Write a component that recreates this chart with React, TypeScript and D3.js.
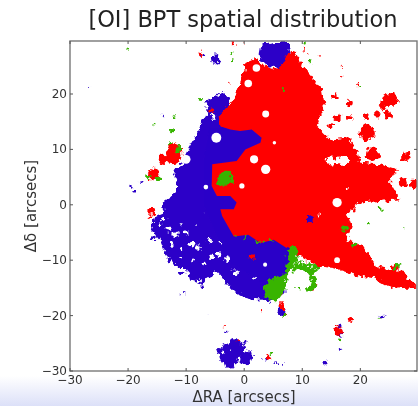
import React from "react";
import * as d3 from "d3";

type P = [number, number];
type B = [number, number, number];

const xTicks = [-30, -20, -10, 0, 10, 20];
const yTicks = [-30, -20, -10, 0, 10, 20];

const blueMain: P[] = [[-6.7,18.7],[-5.9,19.2],[-4.7,19.6],[-3.8,20.4],[-2.7,19],[-2.4,16.6],[-0.7,13.3],[2.8,13],[3.3,11.2],[1.6,8.8],[3.9,-5.1],[5.6,-6.3],[7.5,-9.3],[7.2,-12.9],[6.2,-15.9],[4.2,-17.7],[2.9,-17.1],[1.6,-17],[-0.7,-16.4],[-2.4,-15],[-4.1,-12.8],[-5,-11.8],[-5.6,-13.2],[-6.6,-13.6],[-7.3,-14.6],[-8.3,-13.8],[-9.3,-13.7],[-9.9,-11.4],[-11.1,-11.4],[-12.2,-10.4],[-13.6,-8.9],[-14.5,-6.5],[-15.9,-4.7],[-15.3,-2],[-13.9,-1.4],[-14.2,0.4],[-12.5,1.6],[-11.4,3.4],[-12.2,5.8],[-10.8,7.6],[-9.7,10],[-8,13],[-7.4,14.8],[-6.2,16.6]];
const blueCore: P[] = [[-4.3,14],[3.5,14],[4,5],[3,-4],[8,-8],[7.2,-12],[3,-14],[-3,-10],[-7,0],[-7,8],[-6,14]];
const redMain: P[] = [[-4.4,16],[-1.8,19],[-0.1,23.8],[0.2,25.6],[2.2,26.5],[3.3,25.3],[5.6,24.4],[6.8,26.8],[8.5,28],[9.9,25.3],[11.4,23.5],[13.4,20.8],[13.9,17.8],[12.5,14.2],[14.8,11.8],[17.7,12.1],[19.4,10],[20,7.6],[23.4,7.3],[26.3,6.4],[25.1,4.3],[26.9,1],[20,0.4],[17.7,-1.4],[18.5,-3.9],[17.7,-6.3],[20.6,-7.5],[22.8,-11.1],[26.3,-11.8],[29.9,-14.8],[25.7,-15.2],[22.3,-13.2],[20,-13],[15.4,-11.4],[12.5,-11.1],[9.6,-9.3],[7.3,-7.8],[5.1,-6.3],[2.8,-6.9],[0.7,-5.4],[-1.8,-5.7],[-3.8,-2],[-4.1,-0.8],[-1.8,-0.8],[-1.3,0.4],[-2.4,1.6],[-4.7,1.6],[-5.6,3.4],[-5.5,7.3],[-1.3,7.9],[0.2,10],[2.8,11.2],[3,12.1],[1.3,13.6],[-0.7,13.3],[-2.4,13.6],[-4.1,14.2]];
const redCore: P[] = [[-4.4,16],[-4.1,14.2],[-2.4,13.6],[-0.7,13.3],[1.3,13.6],[3,12.1],[2.8,11.2],[0.2,10],[-1.3,7.9],[-5.5,7.3],[-5.6,3.4],[-4.7,1.6],[-2.4,1.6],[-1.3,0.4],[-1.8,-0.8],[-4.1,-0.8],[-3.8,-2],[-1.8,-5.7],[0.7,-5.4],[2.8,-6.9],[5.1,-6.3],[7.3,-7.8],[8,-7],[10,-2],[10,8],[8,16],[3,17],[-2,17]];
const greenCentre: P[] = [[-4.1,5.8],[-2.7,6.2],[-1.8,4.9],[-2.1,3.7],[-3.6,3.4],[-4.8,4]];
const greenLower: P[] = [[7.6,-7.8],[9.1,-7.5],[9.2,-10],[7.4,-12.4],[7.1,-15.3],[5.6,-17.6],[3.9,-16.7],[3.3,-14.7],[4.5,-13.5],[7.1,-12.3],[7.4,-9.9]];
const greenBranch: P[] = [[9.2,-10],[13.1,-11.1],[12,-12.4],[12.4,-15],[11,-16],[10.4,-14.8],[11.4,-12.6],[8,-11.9]];
const blueTop: P[] = [[2.8,28.9],[5.1,29.4],[7.6,29.4],[7.9,27.7],[5.9,24.7],[3.6,25.3],[2.5,27.1]];

const redBlobs: B[] = [[25.2,19,1.3],[24,18.1,0.8],[21.1,13,1.4],[22,9.1,1.2],[27.9,8.8,0.7],[29.3,3.7,0.8],[27.4,4,0.8],[18.2,18.4,0.5],[15.4,19.6,0.5],[16,15.7,0.6],[18.2,15.7,0.5],[21.1,16,0.5],[22.8,16.3,0.5],[24.6,16.3,0.7],[14.8,14.2,0.5],[19.6,21.7,0.3],[16.7,23.2,0.2],[-15.6,5.5,1],[-12.2,8.8,1.4],[-13.9,8.2,0.8],[-12.2,10.6,0.7],[-11,10,0.6],[-15.9,-1.1,0.6],[-16.2,-2.3,0.4],[16.2,-22.8,0.8],[18.2,-20.7,0.4],[4.2,-27.6,0.5],[6.4,-18.3,0.5],[-7.6,27.3,0.4],[-1.8,29.2,0.4],[14.4,-4.5,0.5],[-5.6,17,0.4],[25.9,-11.6,0.7],[27,-13,1.1],[24,-13,1.1],[7,-19.9,0.3],[3,-19.2,0.2],[-1,-24.6,0.3],[10.4,28,0.2],[0,29,0.12],[-2.5,22,0.15],[-3.4,-22,0.1],[13,27,0.15],[11,27.3,0.15],[16.9,25,0.1],[19,-1,0.4],[11.8,-15.2,0.3],[12.2,-14.4,0.25],[6.4,-16,0.3]];
const greenBlobs: B[] = [[-16.5,5.2,0.4],[-15,4.7,0.4],[-11.3,10,0.6],[-12.7,11.2,0.3],[26.3,-11.1,0.5],[19,-7.2,0.5],[17.3,-4.2,0.6],[21.4,-3.5,0.25],[23.4,-0.8,0.25],[-20.2,28.2,0.2],[-7.6,19,0.25],[10.5,29.4,0.3],[-2.3,27.3,0.2],[-2.1,26,0.25],[11.4,25.8,0.3],[16.5,-24.3,0.3],[6.8,-19.9,0.35],[4.6,-26.8,0.2],[23.3,-20.7,0.2],[-12.5,13.2,0.3],[-15.3,14.5,0.15],[-12,16,0.15],[27.4,-4.2,0.2],[20,21.4,0.2],[-1.5,-5.7,0.2],[0.3,-5.9,0.25],[2.3,-6.8,0.3],[3.3,-6.7,0.3],[4.6,-6.6,0.25],[9.5,-15.2,0.2],[8.9,-15,0.15],[6.8,20.7,0.2]];
const blueBlobs: B[] = [[-5,26.2,0.7],[16.4,-23.1,0.6],[23.7,-20.1,0.4],[16,0.7,0.3],[14,-28.4,0.4],[6.5,-19.2,0.6],[6.5,-15.6,0.6],[16.5,-26.1,0.25],[-2.4,-27,1.9],[0.2,-27.6,1.3],[-1.8,-24.9,0.8],[0.2,-24.9,0.4],[-4.4,-26.1,0.6],[-2.4,-28.9,0.8],[-1,-26,1],[-4.2,-27,0.3],[-3,-23,0.25],[-19.5,3.2,0.3],[-18.8,2.4,0.2],[-17.7,4,0.25],[-26.6,21.2,0.12],[-10.2,-16,0.15],[3.6,-27.8,0.3],[-12.8,8.8,0.35],[5.5,-28.6,0.15],[6.8,-28.7,0.15],[-6.3,-19.9,0.1],[-7.1,27,0.25],[-4.4,27,0.3],[-13.9,16.1,0.12],[16.4,-22,0.35],[-15.5,-6,0.4],[-13,-10,0.35],[-10.7,-12.5,0.4],[-7.2,-15,0.3],[-11,-16.1,0.12],[-15,-3,0.4]];
const islandBlue: B[] = [[11.4,-2.5,0.6]];
const islandRed: B[] = [[1.4,-9.4,0.45]];
const holesRound: B[] = [[2.1,24.7,0.65],[0.7,21.9,0.65],[3.7,16.4,0.6],[-4.8,12.1,0.85],[-10,8.2,0.75],[1.7,8.2,0.7],[3.7,6.4,0.8],[5.2,11.2,0.3],[-0.4,3.4,0.45],[-6.6,3.2,0.4],[3.6,-10.8,0.35],[16,-10,0.5],[16,0.4,0.8],[-13,6.1,0.8]];
const holesRough: B[] = [[15,7.9,0.8],[16.2,7.9,0.6],[17.2,7.9,0.7],[9.8,-13,1.3],[8.6,-13.6,0.9],[10.6,-14,1],[-13.9,-2.6,0.45],[-13,-4.4,0.4],[-14.6,-3.5,0.3],[-11.9,-5.3,0.45],[-12.5,-7.1,0.3],[-9.9,-5,0.35],[-9,-7.1,0.4],[-7.9,-7.7,0.4],[-10.8,-8,0.3],[-5.9,-6.5,0.35],[-4.4,-9.1,0.45],[-3,-9.9,0.4],[-1.3,-12.3,0.4],[-6.5,-13.5,0.3],[-7.9,-13.8,0.25],[1.6,-13.4,0.25],[-11,-3.8,0.2],[-8.2,-3.5,0.2],[-6.9,-1.4,0.12],[-5.5,-9.4,0.35],[-5.2,15.9,0.4],[-2,-11.7,0.15],[-4,-7,0.2],[12.8,-1.9,0.2],[18,3,0.15],[-2.4,-26.2,0.15],[-1,-27.8,0.35],[-3.5,-26.8,0.25],[20.2,12.3,0.2],[-7,-10.6,0.3],[-8.8,-10,0.3],[-11,-9.5,0.25],[9.8,-10.6,0.35],[11.4,-11.2,0.25]];

const W = 418, H = 406;
const x = d3.scaleLinear().domain([-30, 30]).range([70, 418.4]);
const y = d3.scaleLinear().domain([-30, 30]).range([371, 38.6]);
const area = d3.line<P>().x(d => x(d[0])).y(d => y(d[1])).curve(d3.curveLinearClosed);
const ink = "#333";
const font = "DejaVu Sans, sans-serif";
const BLUE = "#2c00c8", RED = "#ff0000", GREEN = "#38b400";
const rx = (r: number) => x(r) - x(0);

export default function App() {
  const blobs = (list: B[], fill: string) => list.map((b, i) => (
    <circle key={i} cx={x(b[0])} cy={y(b[1])} r={rx(b[2])} fill={fill} />
  ));
  return (
    <svg width={W} height={H} style={{ position: "absolute", left: 0, top: 0 }} fontFamily={font}>
      <defs>
        <linearGradient id="band" x1="0" x2="0" y1="0" y2="1">
          <stop offset="0" stopColor="#ffffff" />
          <stop offset="1" stopColor="#dce0f8" />
        </linearGradient>
        <clipPath id="plot"><rect x={70} y={41} width={347} height={330} /></clipPath>
        <filter id="soft" x="-5%" y="-5%" width="110%" height="110%"><feGaussianBlur stdDeviation="0.45" /></filter>
        <filter id="jag" x="-5%" y="-5%" width="110%" height="110%" colorInterpolationFilters="sRGB">
          <feTurbulence type="fractalNoise" baseFrequency="0.22" numOctaves="2" seed="4" result="n" />
          <feDisplacementMap in="SourceGraphic" in2="n" scale="8" xChannelSelector="R" yChannelSelector="G" />
          <feGaussianBlur stdDeviation="0.45" />
        </filter>
      </defs>
      <rect width={W} height={H} fill="#fff" />
      <rect x={0} y={376} width={W} height={30} fill="url(#band)" />
      <g clipPath="url(#plot)">
        <g filter="url(#jag)">
          <path d={area(blueMain)!} fill={BLUE} />
          {blobs(blueBlobs, BLUE)}
          <path d={area(redMain)!} fill={RED} />
          {blobs(redBlobs, RED)}
        </g>
        <g filter="url(#soft)">
          <path d={area(blueCore)!} fill={BLUE} />
          <path d={area(redCore)!} fill={RED} />
        </g>
        <g filter="url(#jag)">
          <path d={area(blueTop)!} fill={BLUE} />
          {blobs(islandBlue, BLUE)}
          {blobs(islandRed, RED)}
          <path d={area(greenLower)!} fill={GREEN} />
          <path d={area(greenBranch)!} fill={GREEN} />
          <path d={area(greenCentre)!} fill={GREEN} />
          {blobs(greenBlobs, GREEN)}
          {blobs(holesRough, "#ffffff")}
        </g>
        <g filter="url(#soft)">{blobs(holesRound, "#ffffff")}</g>
      </g>
      <g filter="url(#soft)">
        <rect x={70} y={41} width={347} height={330} fill="none" stroke="#777" strokeWidth={1.4} />
        {xTicks.map(t => (
          <g key={t}>
            <line x1={x(t)} x2={x(t)} y1={371} y2={368} stroke="#555" />
            <line x1={x(t)} x2={x(t)} y1={41} y2={44} stroke="#555" />
            <text x={x(t)} y={384} textAnchor="middle" fontSize={12} fill={ink}>{t < 0 ? `\u2212${-t}` : t}</text>
          </g>
        ))}
        {yTicks.map(t => (
          <g key={t}>
            <line x1={70} x2={73} y1={y(t)} y2={y(t)} stroke="#555" />
            <line x1={417} x2={414} y1={y(t)} y2={y(t)} stroke="#555" />
            <text x={67} y={y(t) + 4} textAnchor="end" fontSize={12} fill={ink}>{t < 0 ? `\u2212${-t}` : t}</text>
          </g>
        ))}
        <text x={243} y={27} textAnchor="middle" fontSize={22.5} fill="#222">[OI] BPT spatial distribution</text>
        <text x={244} y={402} textAnchor="middle" fontSize={15} fill={ink}>ΔRA [arcsecs]</text>
        <text transform="translate(36,206) rotate(-90)" textAnchor="middle" fontSize={15} fill={ink}>Δδ [arcsecs]</text>
      </g>
    </svg>
  );
}
